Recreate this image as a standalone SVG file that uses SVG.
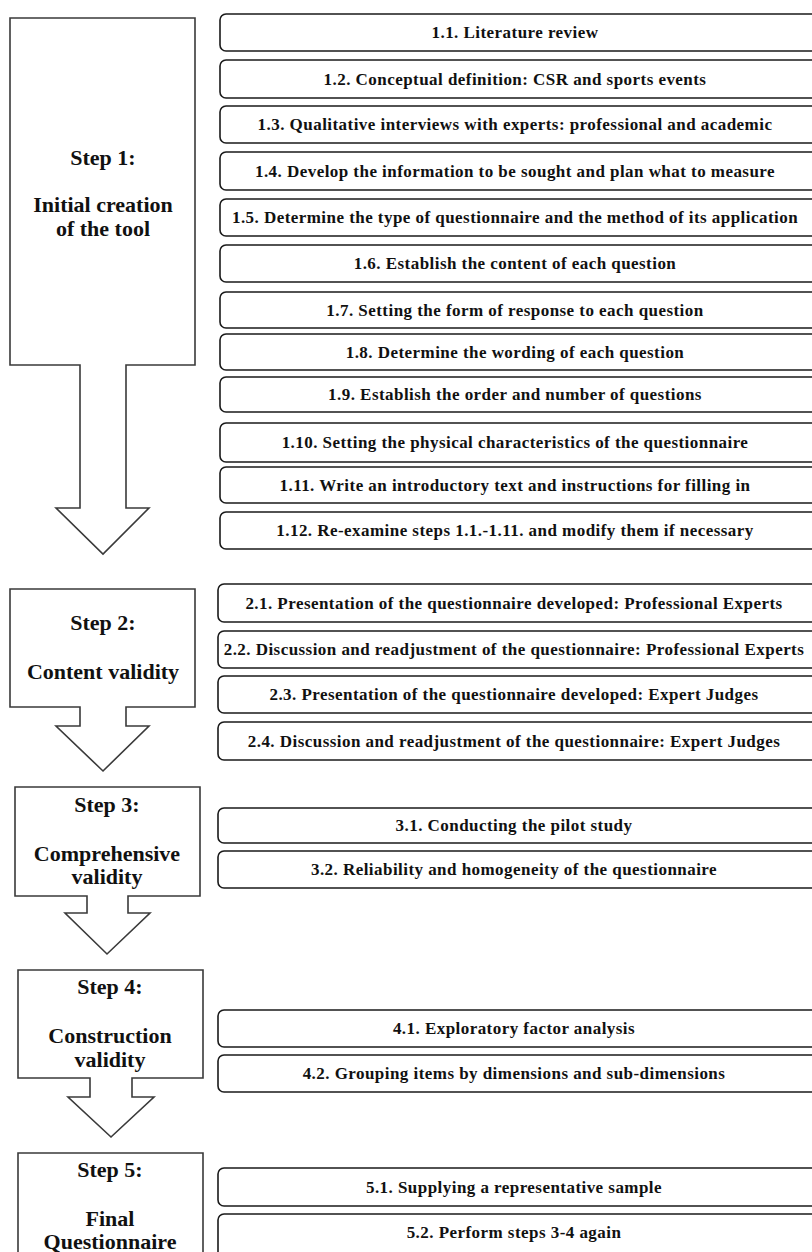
<svg xmlns="http://www.w3.org/2000/svg" width="812" height="1252" viewBox="0 0 812 1252">
<style>
.step{fill:#fff;stroke:#3a3a3a;stroke-width:1.6}
.item{fill:#fff;stroke:#1a1a1a;stroke-width:1.6}
.st{font-family:"Liberation Serif","Times New Roman",serif;font-weight:bold;font-size:22px;fill:#111;text-anchor:middle}
.it{font-family:"Liberation Serif","Times New Roman",serif;font-weight:bold;font-size:17px;letter-spacing:0.45px;fill:#111;text-anchor:middle}
</style>
<rect width="812" height="1252" fill="#fff"/>
<g id="step1">
<path class="step" d="M10,18 H195 V365 H126 V508 H149 L103,554 L56,508 H80 V365 H10 Z"/>
<text class="st" x="103" y="165">Step 1:</text>
<text class="st" x="103" y="212">Initial creation</text>
<text class="st" x="103" y="236">of the tool</text>
</g>
<g id="step2">
<path class="step" d="M10,589 H195 V707 H126 V726 H149 L103,771 L56,726 H80 V707 H10 Z"/>
<text class="st" x="103" y="630">Step 2:</text>
<text class="st" x="103" y="679">Content validity</text>
</g>
<g id="step3">
<path class="step" d="M15,787 H200 V896 H128 V913 H150 L107,954 L65,913 H87 V896 H15 Z"/>
<text class="st" x="107" y="812">Step 3:</text>
<text class="st" x="107" y="861">Comprehensive</text>
<text class="st" x="107" y="884">validity</text>
</g>
<g id="step4">
<path class="step" d="M18,970 H203 V1078 H132 V1097 H154 L111,1137 L68,1097 H90 V1078 H18 Z"/>
<text class="st" x="110" y="994">Step 4:</text>
<text class="st" x="110" y="1043">Construction</text>
<text class="st" x="110" y="1067">validity</text>
</g>
<g id="step5">
<path class="step" d="M18,1153 H203 V1262 H18 Z"/>
<text class="st" x="110" y="1177">Step 5:</text>
<text class="st" x="110" y="1226">Final</text>
<text class="st" x="110" y="1249">Questionnaire</text>
</g>
<g id="items1">
<g id="n1-1"><rect class="item" x="220" y="14" width="610" height="37" rx="6"/><text class="it" x="515" y="38">1.1. Literature review</text></g>
<g id="n1-2"><rect class="item" x="220" y="60" width="610" height="38" rx="6"/><text class="it" x="515" y="85">1.2. Conceptual definition: CSR and sports events</text></g>
<g id="n1-3"><rect class="item" x="220" y="106" width="610" height="37" rx="6"/><text class="it" x="515" y="130">1.3. Qualitative interviews with experts: professional and academic</text></g>
<g id="n1-4"><rect class="item" x="220" y="152" width="610" height="38" rx="6"/><text class="it" x="515" y="177">1.4. Develop the information to be sought and plan what to measure</text></g>
<g id="n1-5"><rect class="item" x="220" y="199" width="610" height="37" rx="6"/><text class="it" x="515" y="223">1.5. Determine the type of questionnaire and the method of its application</text></g>
<g id="n1-6"><rect class="item" x="220" y="245" width="610" height="37" rx="6"/><text class="it" x="515" y="269">1.6. Establish the content of each question</text></g>
<g id="n1-7"><rect class="item" x="220" y="292" width="610" height="36" rx="6"/><text class="it" x="515" y="316">1.7. Setting the form of response to each question</text></g>
<g id="n1-8"><rect class="item" x="220" y="334" width="610" height="36" rx="6"/><text class="it" x="515" y="358">1.8. Determine the wording of each question</text></g>
<g id="n1-9"><rect class="item" x="220" y="377" width="610" height="35" rx="6"/><text class="it" x="515" y="400">1.9. Establish the order and number of questions</text></g>
<g id="n1-10"><rect class="item" x="220" y="423" width="610" height="39" rx="6"/><text class="it" x="515" y="448">1.10. Setting the physical characteristics of the questionnaire</text></g>
<g id="n1-11"><rect class="item" x="220" y="467" width="610" height="36" rx="6"/><text class="it" x="515" y="491">1.11. Write an introductory text and instructions for filling in</text></g>
<g id="n1-12"><rect class="item" x="220" y="512" width="610" height="37" rx="6"/><text class="it" x="515" y="536">1.12. Re-examine steps 1.1.-1.11. and modify them if necessary</text></g>
</g>
<g id="items2">
<g id="n2-1"><rect class="item" x="218" y="584" width="612" height="38" rx="6"/><text class="it" x="514" y="609">2.1. Presentation of the questionnaire developed: Professional Experts</text></g>
<g id="n2-2"><rect class="item" x="218" y="631" width="612" height="37" rx="6"/><text class="it" x="514" y="655">2.2. Discussion and readjustment of the questionnaire: Professional Experts</text></g>
<g id="n2-3"><rect class="item" x="218" y="676" width="612" height="37" rx="6"/><text class="it" x="514" y="700">2.3. Presentation of the questionnaire developed: Expert Judges</text></g>
<g id="n2-4"><rect class="item" x="218" y="722" width="612" height="38" rx="6"/><text class="it" x="514" y="747">2.4. Discussion and readjustment of the questionnaire: Expert Judges</text></g>
</g>
<g id="items3">
<g id="n3-1"><rect class="item" x="218" y="808" width="612" height="35" rx="6"/><text class="it" x="514" y="831">3.1. Conducting the pilot study</text></g>
<g id="n3-2"><rect class="item" x="218" y="851" width="612" height="37" rx="6"/><text class="it" x="514" y="875">3.2. Reliability and homogeneity of the questionnaire</text></g>
</g>
<g id="items4">
<g id="n4-1"><rect class="item" x="218" y="1010" width="612" height="37" rx="6"/><text class="it" x="514" y="1034">4.1. Exploratory factor analysis</text></g>
<g id="n4-2"><rect class="item" x="218" y="1055" width="612" height="37" rx="6"/><text class="it" x="514" y="1079">4.2. Grouping items by dimensions and sub-dimensions</text></g>
</g>
<g id="items5">
<g id="n5-1"><rect class="item" x="218" y="1168" width="612" height="38" rx="6"/><text class="it" x="514" y="1193">5.1. Supplying a representative sample</text></g>
<g id="n5-2"><rect class="item" x="218" y="1214" width="612" height="44" rx="6"/><text class="it" x="514" y="1238">5.2. Perform steps 3-4 again</text></g>
</g>
<g id="connectors"></g>
</svg>
